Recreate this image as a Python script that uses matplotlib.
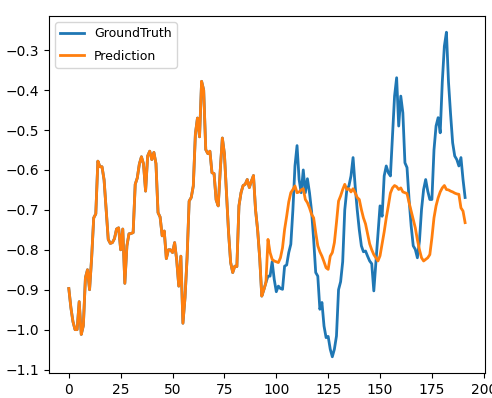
import matplotlib
matplotlib.use("Agg")
import matplotlib.pyplot as plt

# shared history (input window), steps 0..95
history = [
    -0.897, -0.945, -0.98, -1.0, -1.0, -0.93, -1.012, -0.99, -0.87, -0.85,
    -0.9, -0.82, -0.72, -0.71, -0.578, -0.592, -0.592, -0.625, -0.70, -0.774,
    -0.784, -0.782, -0.772, -0.748, -0.745, -0.80, -0.748, -0.884, -0.79, -0.76,
    -0.759, -0.757, -0.636, -0.62, -0.585, -0.567, -0.585, -0.653, -0.565, -0.553,
    -0.574, -0.556, -0.584, -0.707, -0.718, -0.765, -0.753, -0.822, -0.80, -0.80,
    -0.807, -0.782, -0.826, -0.891, -0.816, -0.984, -0.92, -0.82, -0.678, -0.669,
    -0.640, -0.51, -0.47, -0.517, -0.378, -0.40, -0.549, -0.559, -0.553, -0.607,
    -0.609, -0.675, -0.69, -0.60, -0.52, -0.56, -0.657, -0.757, -0.832, -0.857,
    -0.841, -0.842, -0.69, -0.657, -0.639, -0.636, -0.624, -0.644, -0.628, -0.614,
    -0.70, -0.75, -0.82, -0.916, -0.90, -0.882,
]

# ground truth for steps 96..191
truth_future = [
    -0.866, -0.866, -0.83, -0.874, -0.905, -0.891, -0.897, -0.899, -0.841, -0.838,
    -0.807, -0.786, -0.70, -0.59, -0.539, -0.624, -0.657, -0.60, -0.657, -0.622,
    -0.657, -0.703, -0.774, -0.857, -0.866, -0.949, -0.932, -0.991, -1.02, -1.017,
    -1.049, -1.068, -1.049, -1.016, -0.90, -0.88, -0.83, -0.70, -0.649, -0.64,
    -0.615, -0.569, -0.64, -0.70, -0.75, -0.79, -0.805, -0.803, -0.816, -0.828,
    -0.835, -0.903, -0.832, -0.76, -0.69, -0.716, -0.615, -0.59, -0.607, -0.615,
    -0.515, -0.415, -0.369, -0.49, -0.415, -0.457, -0.582, -0.594, -0.674, -0.74,
    -0.79, -0.799, -0.82, -0.778, -0.699, -0.649, -0.624, -0.653, -0.674, -0.674,
    -0.55, -0.49, -0.469, -0.507, -0.38, -0.29, -0.255, -0.38, -0.46, -0.532,
    -0.565, -0.574, -0.59, -0.569, -0.624, -0.669,
]

# model prediction for steps 96..191
pred_future = [
    -0.774, -0.807, -0.824, -0.828, -0.83, -0.832, -0.82, -0.795, -0.749, -0.716,
    -0.68, -0.657, -0.649, -0.64, -0.657, -0.655, -0.65, -0.647, -0.674, -0.682,
    -0.695, -0.711, -0.72, -0.757, -0.79, -0.805, -0.816, -0.83, -0.845, -0.849,
    -0.816, -0.807, -0.782, -0.732, -0.678, -0.665, -0.649, -0.636, -0.649, -0.647,
    -0.655, -0.647, -0.657, -0.669, -0.674, -0.699, -0.72, -0.735, -0.76, -0.785,
    -0.80, -0.812, -0.82, -0.828, -0.815, -0.785, -0.755, -0.72, -0.69, -0.658,
    -0.645, -0.639, -0.642, -0.649, -0.645, -0.655, -0.657, -0.659, -0.682, -0.703,
    -0.724, -0.745, -0.775, -0.80, -0.82, -0.828, -0.824, -0.82, -0.812, -0.77,
    -0.72, -0.69, -0.67, -0.655, -0.645, -0.639, -0.649, -0.65, -0.653, -0.655,
    -0.658, -0.66, -0.661, -0.695, -0.703, -0.732,
]

true = history + truth_future
preds = history + pred_future

fig = plt.figure(figsize=(4.92, 3.98), dpi=100)
ax = fig.add_axes([0.0996, 0.0628, 0.886, 0.897])
ax.plot(true, label='GroundTruth', linewidth=2)
ax.plot(preds, label='Prediction', linewidth=2)
ax.legend(loc='upper left', fontsize=9, labelspacing=0.75, handlelength=1.9)
fig.savefig('out.png', dpi=100)
